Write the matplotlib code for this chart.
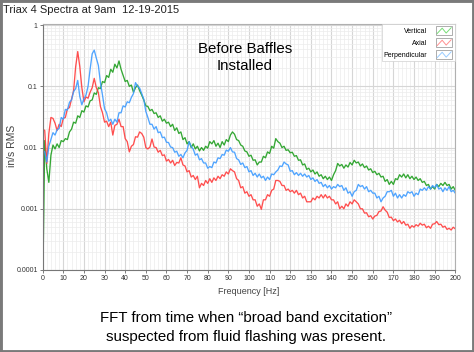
import matplotlib.pyplot as plt
from matplotlib.lines import Line2D
from matplotlib.patches import Rectangle
from matplotlib.legend_handler import HandlerBase
from matplotlib.ticker import FixedLocator, LogLocator, NullFormatter

# Frequency bins [Hz]: DC bin, then 1 Hz steps
freq = [0, 0.05] + list(range(1, 201))

vertical = [
    1.0, 0.00005,
    0.013, 0.0045, 0.0027, 0.0075, 0.011, 0.0095, 0.0115, 0.010, 0.013, 0.0125,
    0.014, 0.0135, 0.018, 0.020, 0.026, 0.025, 0.033, 0.031, 0.040, 0.038,
    0.048, 0.046, 0.058, 0.060, 0.078, 0.074, 0.095, 0.092, 0.12, 0.115,
    0.15, 0.14, 0.19, 0.17, 0.23, 0.20, 0.26, 0.19, 0.15, 0.12,
    0.125, 0.10, 0.105, 0.08, 0.095, 0.105, 0.085, 0.072, 0.06, 0.048,
    0.047, 0.040, 0.042, 0.036, 0.037, 0.031, 0.033, 0.027, 0.029, 0.025,
    0.026, 0.022, 0.024, 0.019, 0.021, 0.017, 0.018, 0.0135, 0.0145, 0.0115,
    0.0125, 0.010, 0.0115, 0.0095, 0.0105, 0.0088, 0.010, 0.0090, 0.0105, 0.0098,
    0.0125, 0.0115, 0.0130, 0.0105, 0.0118, 0.0100, 0.0125, 0.0110, 0.0135, 0.0125,
    0.016, 0.018, 0.0165, 0.0135, 0.0130, 0.0110, 0.0105, 0.0088, 0.0085, 0.0072,
    0.0075, 0.0062, 0.0063, 0.0052, 0.0058, 0.0058, 0.0072, 0.0068, 0.0085, 0.0080,
    0.0105, 0.0098, 0.0140, 0.0125, 0.0118, 0.0100, 0.0105, 0.0090, 0.0092, 0.0082,
    0.0084, 0.0072, 0.0074, 0.0062, 0.0063, 0.0052, 0.0054, 0.0044, 0.0046, 0.0040,
    0.0043, 0.0037, 0.0040, 0.0034, 0.0036, 0.0031, 0.0034, 0.0030, 0.0033, 0.0029,
    0.0036, 0.0042, 0.0055, 0.0050, 0.0053, 0.0046, 0.0052, 0.0048, 0.0057, 0.0052,
    0.0062, 0.0056, 0.0058, 0.0050, 0.0054, 0.0047, 0.0050, 0.0043, 0.0045, 0.0039,
    0.0041, 0.0036, 0.0038, 0.0033, 0.0034, 0.0028, 0.0030, 0.0025, 0.0028, 0.0025,
    0.0031, 0.0030, 0.0036, 0.0033, 0.0037, 0.0032, 0.0036, 0.0031, 0.0034, 0.0030,
    0.0033, 0.0029, 0.0031, 0.0027, 0.0028, 0.0024, 0.0025, 0.0021, 0.0023, 0.0021,
    0.0025, 0.0023, 0.0026, 0.0024, 0.0027, 0.0024, 0.0025, 0.0021, 0.0023, 0.0020,
]

axial = [
    0.02, 0.02,
    0.019, 0.0055, 0.017, 0.031, 0.030, 0.025, 0.019, 0.024, 0.022, 0.030,
    0.031, 0.043, 0.045, 0.062, 0.085, 0.21, 0.37, 0.21, 0.095, 0.056,
    0.067, 0.064, 0.080, 0.095, 0.135, 0.095, 0.079, 0.047, 0.037, 0.026,
    0.027, 0.022, 0.026, 0.016, 0.023, 0.024, 0.029, 0.022, 0.022, 0.014,
    0.0125, 0.0085, 0.0105, 0.0112, 0.015, 0.0148, 0.018, 0.017, 0.0148, 0.010,
    0.0095, 0.0102, 0.0138, 0.0102, 0.0100, 0.0084, 0.0090, 0.0074, 0.0076, 0.0060,
    0.0064, 0.0056, 0.0062, 0.0051, 0.0057, 0.0056, 0.0068, 0.0052, 0.0050, 0.0040,
    0.0042, 0.0033, 0.0035, 0.0030, 0.0034, 0.0022, 0.0026, 0.0024, 0.0029, 0.0026,
    0.0031, 0.0027, 0.0032, 0.0029, 0.0034, 0.0031, 0.0036, 0.0034, 0.0040, 0.0037,
    0.0045, 0.0042, 0.0040, 0.0031, 0.0029, 0.0022, 0.0023, 0.0018, 0.0019, 0.0016,
    0.0017, 0.0014, 0.0014, 0.0011, 0.0012, 0.00098, 0.0014, 0.0014, 0.0017, 0.0016,
    0.0020, 0.0021, 0.0029, 0.0029, 0.0028, 0.0024, 0.0024, 0.0020, 0.0021, 0.0019,
    0.0020, 0.0018, 0.0020, 0.0017, 0.0018, 0.0015, 0.0016, 0.0013, 0.0013, 0.0013,
    0.0015, 0.0014, 0.0016, 0.0015, 0.0017, 0.0015, 0.0017, 0.0015, 0.0016, 0.0014,
    0.0014, 0.0012, 0.0013, 0.0010, 0.0011, 0.0010, 0.0012, 0.0011, 0.0013, 0.0012,
    0.0014, 0.0013, 0.0012, 0.0010, 0.0010, 0.00085, 0.00086, 0.00074, 0.00077, 0.00068,
    0.00076, 0.00078, 0.00090, 0.00092, 0.00108, 0.00095, 0.00088, 0.00072, 0.00073, 0.00064,
    0.00068, 0.00061, 0.00065, 0.00057, 0.00062, 0.00054, 0.00056, 0.00048, 0.00053, 0.00050,
    0.00055, 0.00052, 0.00058, 0.00054, 0.00056, 0.00049, 0.00052, 0.00048, 0.00056, 0.00057,
    0.00062, 0.00055, 0.00056, 0.00050, 0.00052, 0.00046, 0.00048, 0.00045, 0.00050, 0.00047,
]

perpendicular = [
    0.009, 0.009,
    0.0085, 0.0058, 0.0105, 0.0135, 0.0175, 0.0160, 0.0195, 0.0205, 0.031, 0.029,
    0.042, 0.041, 0.055, 0.060, 0.082, 0.092, 0.125, 0.068, 0.050, 0.063,
    0.072, 0.100, 0.19, 0.34, 0.39, 0.29, 0.22, 0.115, 0.072, 0.043,
    0.037, 0.027, 0.029, 0.024, 0.029, 0.026, 0.037, 0.037, 0.048, 0.046,
    0.056, 0.054, 0.066, 0.076, 0.115, 0.100, 0.094, 0.076, 0.062, 0.039,
    0.031, 0.024, 0.024, 0.020, 0.022, 0.0175, 0.018, 0.0145, 0.0148, 0.0122,
    0.0121, 0.0102, 0.0100, 0.0084, 0.0087, 0.0072, 0.0077, 0.0068, 0.0082, 0.0090,
    0.0125, 0.0104, 0.0094, 0.0075, 0.0079, 0.0063, 0.0066, 0.0056, 0.0056, 0.0046,
    0.0049, 0.0047, 0.0058, 0.0056, 0.0068, 0.0066, 0.0077, 0.0075, 0.0091, 0.0087,
    0.0100, 0.0085, 0.0084, 0.0066, 0.0063, 0.0053, 0.0056, 0.0047, 0.0049, 0.0040,
    0.0042, 0.0035, 0.0038, 0.0033, 0.0037, 0.0032, 0.0034, 0.0029, 0.0033, 0.0030,
    0.0037, 0.0036, 0.0040, 0.0043, 0.0050, 0.0049, 0.0058, 0.0054, 0.0052, 0.0041,
    0.0042, 0.0036, 0.0039, 0.0035, 0.0038, 0.0034, 0.0037, 0.0033, 0.0035, 0.0030,
    0.0032, 0.0028, 0.0030, 0.0026, 0.0027, 0.0023, 0.0025, 0.0022, 0.0024, 0.0021,
    0.0023, 0.0022, 0.0025, 0.0023, 0.0024, 0.0020, 0.0022, 0.0018, 0.0019, 0.0016,
    0.0019, 0.0020, 0.0025, 0.0023, 0.0024, 0.0021, 0.0023, 0.0019, 0.0020, 0.0018,
    0.0018, 0.0015, 0.0016, 0.0013, 0.0015, 0.0016, 0.0019, 0.0019, 0.0020, 0.0016,
    0.0018, 0.0015, 0.0017, 0.0015, 0.0017, 0.0016, 0.0019, 0.0018, 0.0019, 0.0016,
    0.0018, 0.0017, 0.0021, 0.0020, 0.0022, 0.0020, 0.0023, 0.0021, 0.0024, 0.0022,
    0.0025, 0.0021, 0.0022, 0.0019, 0.0022, 0.0020, 0.0023, 0.0019, 0.0020, 0.0018,
]

x_ticks = list(range(0, 201, 10))
y_ticks = [0.0001, 0.001, 0.01, 0.1, 1]
y_labels = ['0.0001', '0.001', '0.01', '0.1', '1']

series = [
    ('Vertical', vertical, '#1e9e1e', '#77dd77'),
    ('Axial', axial, '#ff3c3c', '#ff9090'),
    ('Perpendicular', perpendicular, '#3d9bff', '#99ccff'),
]


class ZigzagHandler(HandlerBase):
    def create_artists(self, legend, orig_handle, xdescent, ydescent,
                       width, height, fontsize, trans):
        x0, y0 = -xdescent, -ydescent
        box = Rectangle((x0, y0), width, height, facecolor='white',
                        edgecolor='#a0a0a0', lw=0.6, transform=trans)
        xs = [x0 + width * f for f in (0.08, 0.38, 0.62, 0.92)]
        ys = [y0 + height * f for f in (0.2, 0.8, 0.25, 0.85)]
        zig = Line2D(xs, ys, color=orig_handle.get_color(), lw=0.7,
                     transform=trans)
        return [box, zig]


plt.rcParams['font.family'] = ['Liberation Sans', 'DejaVu Sans']

fig = plt.figure(figsize=(4.74, 3.52), dpi=100)
ax = fig.add_axes([0.090, 0.233, 0.8705, 0.700])

for name, vals, color, _ in series:
    ax.plot(freq, vals, color=color, lw=0.95, alpha=0.9)

ax.set_yscale('log')
ax.set_xlim(0, 200)
ax.set_ylim(0.0001, 1.06)

ax.set_xticks(x_ticks)
ax.set_xticklabels([str(t) for t in x_ticks])
ax.xaxis.set_minor_locator(FixedLocator(range(0, 201, 2)))
ax.set_yticks(y_ticks)
ax.set_yticklabels(y_labels)
ax.yaxis.set_minor_locator(LogLocator(base=10, subs=range(2, 10)))
ax.yaxis.set_minor_formatter(NullFormatter())

ax.grid(which='major', color='#d6d6d6', lw=0.8)
ax.grid(which='minor', color='#ececec', lw=0.5)
ax.set_axisbelow(True)

ax.tick_params(which='major', length=2.5, width=0.6, color='#666666',
               labelsize=5, labelcolor='#333333', pad=1)
ax.tick_params(which='minor', length=0)
for side in ['left', 'bottom']:
    ax.spines[side].set_color('#777777')
    ax.spines[side].set_linewidth(0.8)
for side in ['top', 'right']:
    ax.spines[side].set_color('#b0b0b0')
    ax.spines[side].set_linewidth(0.8)

handles = [Line2D([], [], color=light) for _, _, _, light in series]
leg = ax.legend(handles, [s[0] for s in series], loc='upper right',
                handler_map={Line2D: ZigzagHandler()}, fontsize=5,
                markerfirst=False, frameon=True, fancybox=False,
                edgecolor='#d0d0d0', framealpha=1, borderaxespad=0.1,
                handlelength=2.4, handleheight=1.6, labelspacing=0.45,
                handletextpad=1.2, borderpad=0.3)
leg.get_frame().set_linewidth(0.5)

ax.text(0.49, 0.862, 'Before Baffles\nInstalled', transform=ax.transAxes,
        ha='center', va='center', fontsize=10.8, color='black',
        linespacing=1.3)

fig.text(3 / 474, 1 - 10 / 352, 'Triax 4 Spectra at 9am  12-19-2015',
         ha='left', va='center', fontsize=8, color='#222222')
fig.text(12 / 474, 1 - 146 / 352, 'in/s RMS', rotation=90,
         ha='center', va='center', fontsize=7.5, color='#444444')
fig.text(249 / 474, 1 - 292 / 352, 'Frequency [Hz]',
         ha='center', va='center', fontsize=6.5, color='#444444')
fig.text(246 / 474, 1 - 318 / 352,
         'FFT from time when \u201cbroad band excitation\u201d',
         ha='center', va='center', fontsize=10.8, color='black')
fig.text(246 / 474, 1 - 337 / 352,
         'suspected from fluid flashing was present.',
         ha='center', va='center', fontsize=10.8, color='black')

fig.patches.append(Rectangle((0, 0), 1, 1, transform=fig.transFigure,
                             fill=False, edgecolor='#7a7a7a', lw=3.5))

fig.savefig('out.png', dpi=100)
